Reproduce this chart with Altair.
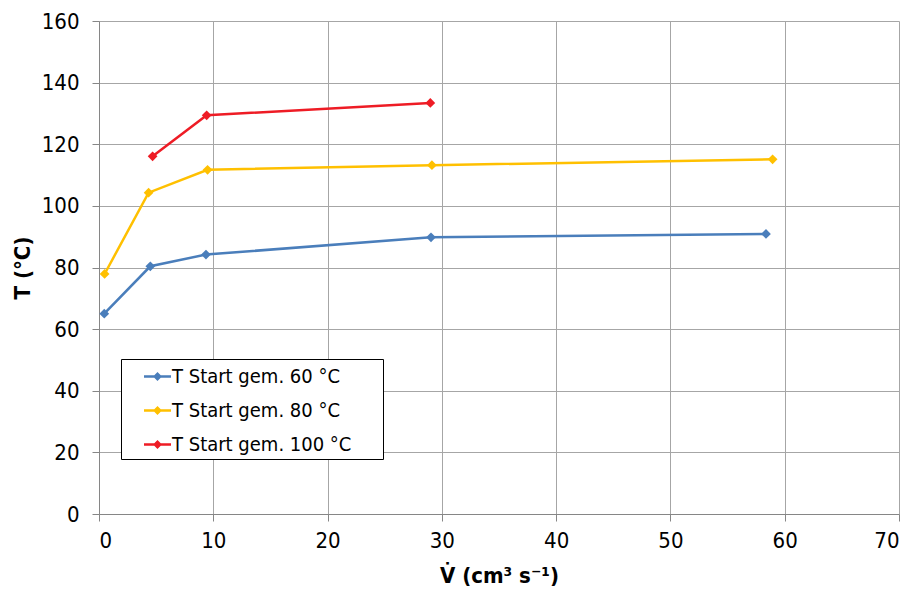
import altair as alt
import pandas as pd

series_names = ["T Start gem. 60 °C", "T Start gem. 80 °C", "T Start gem. 100 °C"]
colors = ["#4A7EBB", "#FFC000", "#EE1C25"]

x_60 = [0.46, 4.49, 9.36, 29.05, 58.36]
y_60 = [65.0, 80.4, 84.2, 89.8, 90.9]
x_80 = [0.49, 4.34, 9.5, 29.13, 58.94]
y_80 = [77.9, 104.3, 111.7, 113.2, 115.1]
x_100 = [4.69, 9.42, 28.99]
y_100 = [116.1, 129.4, 133.4]

x_ticks = [0, 10, 20, 30, 40, 50, 60, 70]
y_ticks = [0, 20, 40, 60, 80, 100, 120, 140, 160]

rows = []
for name, xs, ys in [(series_names[0], x_60, y_60),
                     (series_names[1], x_80, y_80),
                     (series_names[2], x_100, y_100)]:
    for i, (xv, yv) in enumerate(zip(xs, ys)):
        rows.append({"series": name, "x": xv, "y": yv, "order": i})
df = pd.DataFrame(rows)

FONT = "DejaVu Sans Condensed, DejaVu Sans"

x_enc = alt.X("x:Q", scale=alt.Scale(domain=[0, 70], nice=False),
              axis=alt.Axis(values=x_ticks, title="V\u0307 (cm\u00b3 s\u207b\u00b9)",
                            titlePadding=14))
y_enc = alt.Y("y:Q", scale=alt.Scale(domain=[0, 160], nice=False),
              axis=alt.Axis(values=y_ticks, title="T (°C)", titlePadding=7))
color_scale = alt.Scale(domain=series_names, range=colors)

legend_path = ("M-1,-0.09L-0.24,-0.09L0,-0.33L0.24,-0.09L1,-0.09L1,0.09"
               "L0.24,0.09L0,0.33L-0.24,0.09L-1,0.09Z")

# legend frame (decoration only)
frame = alt.Chart(pd.DataFrame({"k": [0]})).mark_rect(
    fill="white", stroke="black", strokeWidth=1
).encode(x=alt.value(22.5), x2=alt.value(284.5), y=alt.value(338.5), y2=alt.value(438.5))

line_layers = [
    alt.Chart(df).transform_filter(alt.datum.series == name)
    .mark_line(strokeWidth=2.5, color=c)
    .encode(x=x_enc, y=y_enc, order="order:Q")
    for name, c in zip(series_names, colors)
]

points = alt.Chart(df).mark_point(shape="diamond", filled=True, size=95, opacity=1).encode(
    x=x_enc, y=y_enc,
    color=alt.Color("series:N", scale=color_scale,
                    legend=alt.Legend(
                        title=None, orient="none", legendX=22, legendY=338,
                        padding=4,
                        symbolType=legend_path, symbolSize=729, symbolStrokeWidth=0,
                        symbolOffset=19, labelOffset=1, rowPadding=10,
                        labelFont=FONT, labelFontSize=20, labelColor="black",
                        labelLimit=400)),
)

chart = alt.layer(frame, *line_layers, points).properties(
    width=800, height=493,
    autosize=alt.AutoSizeParams(type="none"),
    padding={"left": 99, "top": 21, "right": 17, "bottom": 76},
).configure_view(stroke=None).configure_axis(
    labelFont=FONT, labelFontSize=22, labelColor="black",
    titleFont=FONT, titleFontSize=22, titleFontWeight="bold", titleColor="black",
    gridColor="#A6A6A6", gridWidth=1, domainColor="#868686", domainWidth=1,
    tickColor="#868686", tickSize=7, labelPadding=10,
).configure_axisY(labelPadding=13).configure_axisX(labelPadding=9)

chart.save("out.html", embed_options={"renderer": "svg", "actions": False})
